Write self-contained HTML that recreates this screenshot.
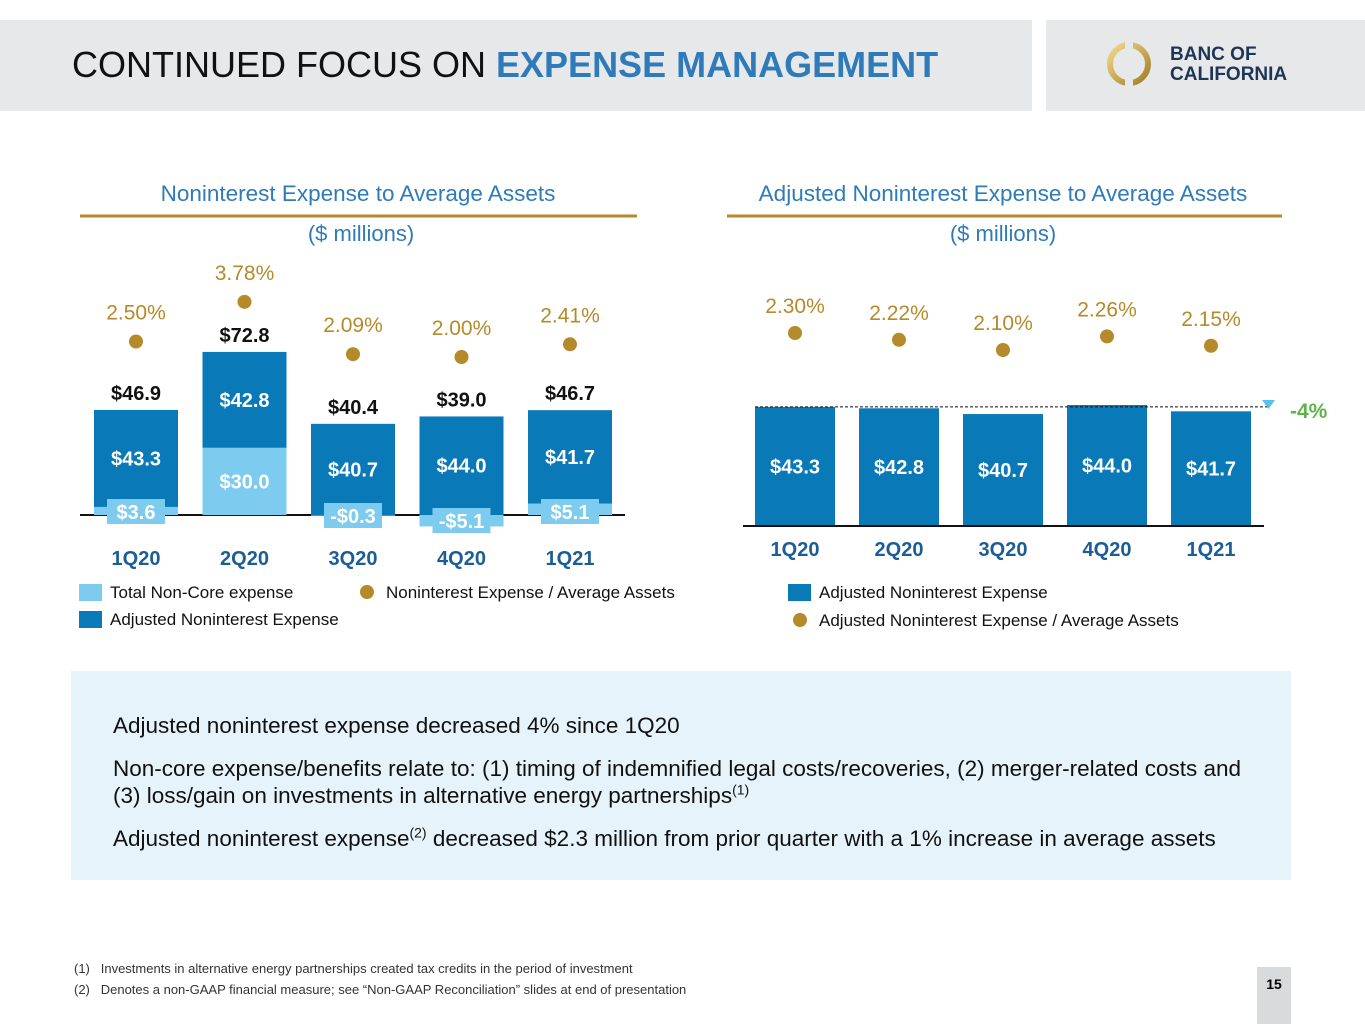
<!DOCTYPE html>
<html><head><meta charset="utf-8"><style>
body{margin:0;width:1365px;height:1024px;background:#fff;font-family:"Liberation Sans",Arial,sans-serif;position:relative;overflow:hidden}
.abs{position:absolute}
</style></head><body>
<div class="abs" style="left:0;top:20px;width:1032px;height:91px;background:#e7e8ea"></div>
<div class="abs" style="left:1046px;top:20px;width:319px;height:91px;background:#e7e8ea"></div>
<div class="abs" style="left:72px;top:44px;font-size:36px;color:#111;white-space:nowrap">CONTINUED FOCUS ON <b style="color:#2f7ab9">EXPENSE MANAGEMENT</b></div>
<svg class="abs" style="left:1104px;top:39px" width="50" height="50"><defs><linearGradient id="g" x1="0" y1="0" x2="1" y2="1"><stop offset="0" stop-color="#f1d98a"/><stop offset="1" stop-color="#a57d25"/></linearGradient></defs><circle cx="25" cy="25" r="19" fill="none" stroke="url(#g)" stroke-width="6"/><rect x="21" y="0" width="8" height="50" fill="#e7e8ea"/></svg>
<div class="abs" style="left:1170px;top:45px;font-size:19px;font-weight:bold;color:#1d3557;line-height:20px">BANC OF<br>CALIFORNIA</div>

<svg class="abs" id="chart" style="left:0;top:0" width="1365" height="660"></svg>

<div class="abs" style="left:71px;top:671px;width:1220px;height:209px;background:#e6f3fb"></div>
<div class="abs" style="left:113px;top:712px;width:1160px;font-size:22.5px;color:#111;line-height:27px">
<div style="margin-bottom:16px">Adjusted noninterest expense decreased 4% since 1Q20</div>
<div style="margin-bottom:16px">Non-core expense/benefits relate to: (1) timing of indemnified legal costs/recoveries, (2) merger-related costs and (3) loss/gain on investments in alternative energy partnerships<sup style="font-size:14px;line-height:0">(1)</sup></div>
<div>Adjusted noninterest expense<sup style="font-size:14px;line-height:0">(2)</sup> decreased $2.3 million from prior quarter with a 1% increase in average assets</div>
</div>
<div class="abs" style="left:74px;top:958px;font-size:13px;color:#333;line-height:21px">(1)&nbsp;&nbsp; Investments in alternative energy partnerships created tax credits in the period of investment<br>(2)&nbsp;&nbsp; Denotes a non-GAAP financial measure; see “Non-GAAP Reconciliation” slides at end of presentation</div>
<div class="abs" style="left:1257px;top:967px;width:34px;height:57px;background:#d9dadc;font-size:14px;font-weight:bold;text-align:center;line-height:34px">15</div>

<script>
const categories=["1Q20","2Q20","3Q20","4Q20","1Q21"];
const adjusted=[43.3,42.8,40.7,44.0,41.7];
const nonCore=[3.6,30.0,-0.3,-5.1,5.1];
const totals=[46.9,72.8,40.4,39.0,46.7];
const ratioLeft=[2.50,3.78,2.09,2.00,2.41];
const ratioRight=[2.30,2.22,2.10,2.26,2.15];
const NS="http://www.w3.org/2000/svg";
const svg=document.getElementById('chart');
function mk(t,a,txt){const e=document.createElementNS(NS,t);for(const k in a)e.setAttribute(k,a[k]);if(txt!==undefined)e.textContent=txt;svg.appendChild(e);return e;}
const DARK="#0a79b8",LIGHT="#7ecbf0",GOLD="#b48a2a",TB="#2f7ab9";
[[80,637,358,"Noninterest Expense to Average Assets"],[727,1282,1003,"Adjusted Noninterest Expense to Average Assets"]].forEach(([a,b,c,t],i)=>{
 let e=mk('text',{x:c,y:201,'text-anchor':'middle','font-size':22.5,fill:TB},t);
 e=mk('line',{x1:a,x2:b,y1:216,y2:216,stroke:GOLD,'stroke-width':3});
 e=mk('text',{x:i?1003:361,y:241,'text-anchor':'middle','font-size':22,fill:TB},"($ millions)");
});
const L0=515,LS=2.24,lx=i=>136+i*108.5,lyP=v=>419-31*v;
let e=mk('line',{x1:80,x2:625,y1:L0,y2:L0,stroke:'#111','stroke-width':2});
categories.forEach((c,i)=>{
 const x=lx(i),w=84,nc=nonCore[i];
 let base=L0,e;
 if(nc>0){e=mk('rect',{x:x-w/2,y:L0-nc*LS,width:w,height:nc*LS,fill:LIGHT});base=L0-nc*LS;}
 else{e=mk('rect',{x:x-w/2,y:L0,width:w,height:-nc*LS,fill:LIGHT});}
 
 e=mk('rect',{x:x-w/2,y:base-adjusted[i]*LS,width:w,height:adjusted[i]*LS,fill:DARK});
 e=mk('text',{x:x,y:base-adjusted[i]*LS/2+7,'text-anchor':'middle','font-size':20,'font-weight':'bold',fill:'#fff'},'$'+adjusted[i].toFixed(1));
 const s=(nc<0?'-$':'$')+Math.abs(nc).toFixed(1);
 if(Math.abs(nc)<10){const ly=nc>=0?512:(nc<-1?521:516);e=mk('rect',{x:x-29,y:ly-13,width:58,height:25,fill:LIGHT});
  e=mk('text',{x:x,y:ly+7,'text-anchor':'middle','font-size':20,'font-weight':'bold',fill:'#fff'},s);}
 else e=mk('text',{x:x,y:L0-nc*LS/2+7,'text-anchor':'middle','font-size':20,'font-weight':'bold',fill:'#fff'},s);
 
 const topV=Math.max(totals[i],adjusted[i]+Math.max(nc,0));
 e=mk('text',{x:x,y:L0-topV*LS-10,'text-anchor':'middle','font-size':20,'font-weight':'bold',fill:'#111'},'$'+totals[i].toFixed(1));
 e=mk('circle',{cx:x,cy:lyP(ratioLeft[i]),r:7,fill:GOLD});
 e=mk('text',{x:x,y:lyP(ratioLeft[i])-22,'text-anchor':'middle','font-size':21,fill:GOLD},ratioLeft[i].toFixed(2)+'%');
 e=mk('text',{x:x,y:565,'text-anchor':'middle','font-size':20,'font-weight':'bold',fill:'#1d5d96'},c);
});
const R0=526,RS=2.75,rx=i=>795+i*104,ryP=v=>333-(v-2.3)*85;
categories.forEach((c,i)=>{
 const x=rx(i);
 let e=mk('rect',{x:x-40,y:R0-adjusted[i]*RS,width:80,height:adjusted[i]*RS,fill:DARK});
 e=mk('text',{x:x,y:R0-adjusted[i]*RS/2+7,'text-anchor':'middle','font-size':20,'font-weight':'bold',fill:'#fff'},'$'+adjusted[i].toFixed(1));
 e=mk('circle',{cx:x,cy:ryP(ratioRight[i]),r:7,fill:GOLD});
 e=mk('text',{x:x,y:ryP(ratioRight[i])-20,'text-anchor':'middle','font-size':21,fill:GOLD},ratioRight[i].toFixed(2)+'%');
 e=mk('text',{x:x,y:556,'text-anchor':'middle','font-size':20,'font-weight':'bold',fill:'#1d5d96'},c);
});
e=mk('line',{x1:743,x2:1264,y1:R0,y2:R0,stroke:'#111','stroke-width':2});
e=mk('line',{x1:755,x2:1268,y1:R0-adjusted[0]*RS,y2:R0-adjusted[0]*RS,stroke:'#111','stroke-width':1,'stroke-dasharray':'3,2'});
e=mk('polygon',{points:'1262,400 1275,400 1268.5,409',fill:'#5bc0ea'});
e=mk('text',{x:1290,y:418,'font-size':21,'font-weight':'bold',fill:'#5fb34a'},'-4%');
[[79,584,'rect',LIGHT,'Total Non-Core expense'],[79,611,'rect',DARK,'Adjusted Noninterest Expense'],[367,592,'circle',GOLD,'Noninterest Expense / Average Assets'],[788,584,'rect',DARK,'Adjusted Noninterest Expense'],[800,620,'circle',GOLD,'Adjusted Noninterest Expense / Average Assets']].forEach(([x,y,t,col,lab])=>{
 let m;
 if(t==='rect'){m=mk('rect',{x:x,y:y,width:23,height:17,fill:col});
  m=mk('text',{x:x+31,y:y+14,'font-size':17,fill:'#111'},lab);}
 else{m=mk('circle',{cx:x,cy:y,r:7,fill:col});
  m=mk('text',{x:x+19,y:y+6,'font-size':17,fill:'#111'},lab);}
 
});
</script>
</body></html>
